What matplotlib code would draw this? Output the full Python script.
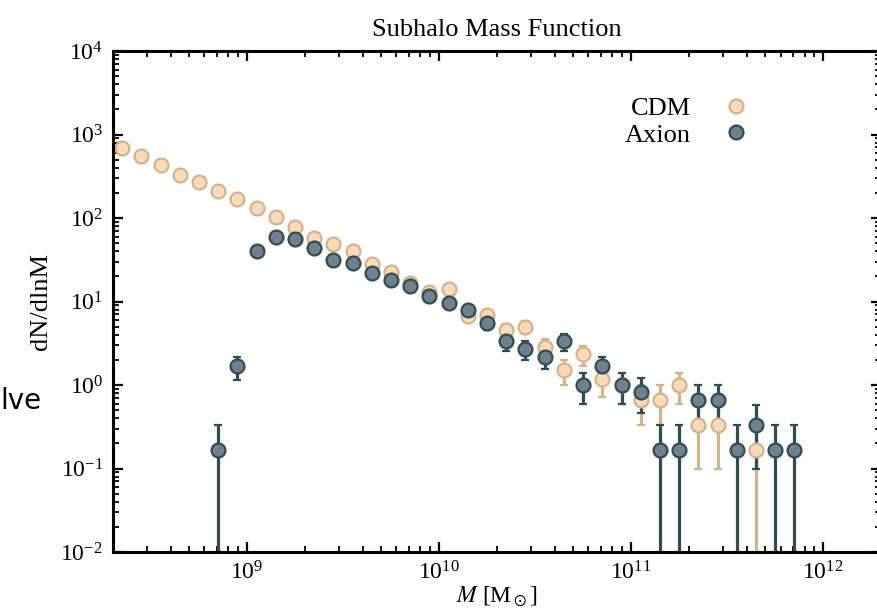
import numpy as np
import matplotlib
matplotlib.use("Agg")
import matplotlib.pyplot as plt
from matplotlib.lines import Line2D

plt.rcParams["font.family"] = ["Liberation Serif", "DejaVu Serif"]
plt.rcParams["mathtext.fontset"] = "stix"

# data: bin centres in log10(M / Msun), dN/dlnM per host
n_hosts = 6
y_floor = 1e-2

cdm_logm = [8.35, 8.45, 8.55, 8.65, 8.75, 8.85, 8.95, 9.05, 9.15, 9.25,
            9.35, 9.45, 9.55, 9.65, 9.75, 9.85, 9.95, 10.05, 10.15, 10.25,
            10.35, 10.45, 10.55, 10.65, 10.75, 10.85, 10.95, 11.05, 11.15, 11.25,
            11.35, 11.45, 11.65]
cdm_dn = [690, 553, 428, 327, 270, 209, 167, 132, 103, 78.7,
          57.6, 49.2, 40.3, 28.1, 22.6, 16.8, 13.1, 14.0, 6.67, 6.83,
          4.5, 5.0, 2.83, 1.5, 2.33, 1.167, 1.0, 0.667, 0.667, 1.0,
          0.333, 0.333, 0.167]

axion_logm = [8.85, 8.95, 9.05, 9.15, 9.25, 9.35, 9.45, 9.55, 9.65, 9.75,
              9.85, 9.95, 10.05, 10.15, 10.25, 10.35, 10.45, 10.55, 10.65, 10.75,
              10.85, 10.95, 11.05, 11.15, 11.25, 11.35, 11.45, 11.55, 11.65, 11.75,
              11.85]
axion_dn = [0.1667, 1.667, 40.5, 58.7, 56.5, 44.0, 31.3, 29.2, 21.8, 18.2,
            15.3, 11.7, 9.5, 8.0, 5.5, 3.33, 2.67, 2.17, 3.33, 1.0,
            1.667, 1.0, 0.833, 0.1667, 0.1667, 0.667, 0.667, 0.1667, 0.333, 0.1667,
            0.1667]


def poisson_err(dn):
    dn = np.asarray(dn, dtype=float)
    err = np.sqrt(dn * n_hosts) / n_hosts
    lower = np.minimum(err, dn - y_floor)
    return np.vstack([lower, err])


fig = plt.figure(figsize=(8.77, 6.11), dpi=100)
# the right edge of the axes sits just past the image border, as in the reference
ax = fig.add_axes([112.7 / 877, 59 / 611, (881 - 112.7) / 877, (552 - 51) / 611])

series = [
    (cdm_logm, cdm_dn, "peachpuff", "tan", "CDM"),
    (axion_logm, axion_dn, "slategray", "darkslategray", "Axion"),
]
handles = []
for logm, dn, face, edge, label in series:
    ax.errorbar(10 ** np.asarray(logm), dn, yerr=poisson_err(dn), fmt="o",
                ms=10, mfc=face, mec=edge, mew=1.6, ecolor=edge,
                elinewidth=2.3, capsize=2.6, capthick=2.6)
    handles.append(Line2D([], [], ls="none", marker="o", ms=10, mfc=face,
                          mec=edge, mew=1.6, label=label))

ax.set_xscale("log")
ax.set_yscale("log")
ax.set_xlim(2e8, 2e12)
ax.set_ylim(y_floor, 1e4)

for side in ["left", "bottom", "top"]:
    ax.spines[side].set_linewidth(2.2)
ax.spines["right"].set_visible(False)
ax.tick_params(which="both", direction="in", top=True, right=True,
               labelsize=17, pad=7)
ax.tick_params(which="major", length=7, width=1.6)
ax.tick_params(which="minor", length=4, width=1.3)

ax.set_title("Subhalo Mass Function", fontsize=19, pad=11)
ax.set_xlabel(r"$M$ [M$_\odot$]", fontsize=17, labelpad=0)
ax.set_ylabel("dN/dlnM", fontsize=19, labelpad=6)

ax.legend(handles=handles, loc="upper right", bbox_to_anchor=(0.852, 0.945),
          frameon=False, markerfirst=False, fontsize=19, handlelength=1.0,
          handletextpad=1.2, labelspacing=0.1, borderpad=0.2)

# fragment of a neighbouring panel's text, cut by the left edge
fig.text(0.0, 0.331, "lve", fontsize=20, family="DejaVu Sans", ha="left",
         va="baseline")

fig.savefig("out.png", dpi=100)
